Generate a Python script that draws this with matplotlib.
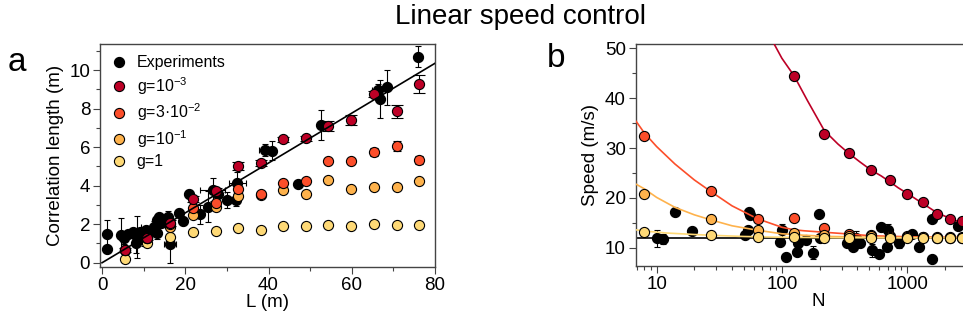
import numpy as np
import matplotlib.pyplot as plt
from matplotlib.ticker import MultipleLocator, LogLocator, NullFormatter, FixedLocator

plt.rcParams['font.family'] = ['Liberation Sans', 'DejaVu Sans']
plt.rcParams['mathtext.fontset'] = 'custom'
plt.rcParams['mathtext.rm'] = 'Liberation Sans'
plt.rcParams['mathtext.it'] = 'Liberation Sans:italic'

# colours of the g series
c_1e3 = '#bd0026'
c_3e2 = '#fc4e2a'
c_1e1 = '#feb24c'
c_1 = '#fed976'

# ---------- panel a: correlation length vs L ----------
L_sim = [5.5, 10.9, 16.3, 21.8, 27.3, 32.6, 38.2, 43.6, 49.0, 54.4, 59.9, 65.3, 70.8, 76.2]
xi_1e3 = [0.64, 1.30, 2.08, 3.29, 3.74, 5.03, 5.19, 6.40, 6.45, 7.09, 7.40, 8.77, 7.85, 9.29]
xi_1e3_err = [0.1, 0.1, 0.15, 0.15, 0.15, 0.2, 0.15, 0.15, 0.15, 0.25, 0.25, 0.15, 0.35, 0.47]
xi_3e2 = [0.64, 1.30, 2.00, 2.82, 3.08, 3.84, 3.55, 4.12, 4.26, 5.29, 5.28, 5.76, 6.07, 5.35]
xi_3e2_err = [0.1, 0.1, 0.1, 0.1, 0.1, 0.1, 0.1, 0.1, 0.1, 0.1, 0.1, 0.2, 0.25, 0.2]
xi_1e1 = [0.64, 1.28, 1.87, 2.46, 2.90, 3.46, 3.52, 3.80, 3.58, 4.29, 3.84, 3.93, 3.91, 4.24]
xi_1 = [0.19, 1.00, 1.35, 1.61, 1.66, 1.80, 1.72, 1.92, 1.92, 1.95, 1.89, 1.99, 1.95, 1.97]

L_exp = [1.1, 1.3, 4.5, 5.3, 6.3, 7.4, 8.2, 8.3, 9.1, 10.1, 10.5, 11.5, 12.5, 13.1, 13.3, 13.8,
         14.1, 14.7, 15.9, 16.3, 18.6, 19.4, 21.0, 23.5, 25.5, 26.6, 27.9, 30.1, 32.2, 32.5,
         39.2, 40.8, 47.2, 52.5, 66.4, 66.8, 68.4, 76.0]
xi_exp = [0.71, 1.49, 1.44, 1.26, 1.49, 1.57, 1.00, 1.35, 1.61, 1.35, 1.70, 1.61, 1.87, 1.52,
          2.21, 2.35, 2.04, 2.13, 2.39, 0.97, 2.60, 2.18, 3.55, 2.51, 2.90, 3.80, 3.56, 3.25,
          3.25, 4.12, 5.85, 5.81, 4.08, 7.15, 8.96, 8.49, 9.10, 10.69]
xi_exp_err = [0.1, 0.75, 0.9, 0.3, 0.2, 0.2, 0.5, 1.1, 0.2, 0.5, 0.2, 0.2, 0.3, 0.3, 0.2, 0.2,
              0.2, 0.2, 0.3, 1.0, 0.2, 0.2, 0.2, 0.5, 0.8, 0.6, 0.2, 0.4, 0.3, 0.6, 0.3, 0.5,
              0.1, 0.8, 0.3, 1.0, 0.9, 0.55]
L_exp_err = [0.2, 0.2, 0.3, 0.3, 0.3, 0.3, 0.3, 0.3, 0.3, 0.3, 0.3, 0.3, 3.2, 0.3, 0.3, 0.3,
             0.3, 0.3, 0.3, 1.5, 0.3, 0.3, 0.3, 0.3, 0.3, 3.0, 0.3, 0.3, 0.3, 2.0, 1.5, 0.5,
             0.3, 0.5, 1.5, 0.5, 1.0, 0.3]
fit_L = [0, 80]
fit_xi = [0, 10.35]

# ---------- panel b: speed vs N ----------
N_sim = [8, 27, 64, 125, 216, 343, 512, 729, 1000, 1331, 1728, 2197, 2744]
N_1e3 = [125, 216, 343, 512, 729, 1000, 1331, 1728, 2197, 2744]
v_1e3 = [44.5, 32.8, 28.9, 25.6, 23.6, 20.7, 19.2, 16.7, 15.7, 15.35]
v_3e2 = [32.5, 21.4, 15.75, 15.9, 13.9, 12.7, 12.5, 12.4, 12.4, 12.2, 12.1, 12.1, 12.05]
v_1e1 = [20.7, 15.7, 13.6, 13.0, 12.6, 12.4, 12.3, 12.2, 12.1, 12.05, 12.0, 12.0, 12.0]
v_1 = [13.2, 12.5, 12.1, 12.05, 12.0, 12.0, 12.0, 12.0, 12.0, 12.0, 12.0, 12.0, 12.0]

curve_N_1e3 = [87, 100, 125, 160, 218, 280, 343, 420, 513, 620, 729, 850, 1000, 1325, 1733, 2188, 2716, 3500, 5500]
curve_v_1e3 = [50.8, 48.0, 44.5, 39.5, 33.5, 30.8, 28.9, 27.2, 25.6, 24.4, 23.2, 22.0, 20.9, 18.9, 17.0, 15.9, 15.0, 14.2, 13.3]
curve_N_3e2 = [6.8, 8, 10, 14, 20, 27, 40, 64, 100, 125, 150, 218, 343, 512, 1000, 2000, 5500]
curve_v_3e2 = [35.5, 33.0, 30.3, 26.8, 23.6, 21.3, 18.4, 15.8, 14.1, 13.6, 13.4, 13.1, 12.75, 12.4, 12.2, 12.1, 12.05]
curve_N_1e1 = [6.8, 8, 10, 14, 20, 27, 40, 64, 100, 150, 250, 500, 1000, 5500]
curve_v_1e1 = [22.8, 21.8, 20.1, 18.1, 16.6, 15.6, 14.4, 13.5, 12.8, 12.5, 12.25, 12.1, 12.05, 12.0]
curve_N_1 = [6.8, 8, 12, 20, 27, 50, 100, 300, 5500]
curve_v_1 = [13.6, 13.35, 12.95, 12.65, 12.5, 12.25, 12.1, 12.0, 11.97]
base_N = [6.8, 5500]
base_v = [12.0, 12.0]

N_exp = [10, 11.2, 14.0, 19.0, 50.7, 53.5, 54.8, 56, 97, 99.3, 108, 131, 134, 155, 178, 199,
         202, 328, 370, 393, 420, 519, 598, 622, 685, 700, 863, 1083, 1250, 1564, 1585, 2553]
v_exp = [11.9, 11.7, 17.2, 13.4, 12.5, 13.5, 17.2, 16.5, 11.2, 13.5, 8.2, 9.2, 10.9, 11.5, 9.0,
         16.7, 11.9, 10.9, 10.2, 11.9, 10.9, 9.5, 8.7, 14.2, 10.2, 13.5, 10.9, 12.7, 10.2, 15.7,
         7.7, 14.3]
v_exp_err = [1.7, 1.0, 0.3, 0.5, 0.3, 0.4, 0.3, 0.3, 0.5, 1.3, 0.3, 0.5, 0.4, 0.4, 1.3, 0.3,
             0.3, 0.5, 0.4, 1.5, 0.4, 1.3, 0.3, 0.4, 0.5, 1.2, 1.0, 0.4, 0.4, 0.5, 0.3, 0.4]

spine_c = '#444444'
ms = 7.3
mew = 0.8
fs = 13.5

fig = plt.figure(figsize=(9.63, 3.27), dpi=100)
ax1 = fig.add_axes([0.1038, 0.1835, 0.3479, 0.6819])
ax2 = fig.add_axes([0.660, 0.1865, 0.3784, 0.678])

# panel a
ax1.plot(fit_L, fit_xi, color='black', lw=1.2, zorder=7)
ax1.errorbar(L_exp, xi_exp, yerr=xi_exp_err, xerr=L_exp_err, fmt='none', ecolor='black',
             elinewidth=0.8, capsize=2, capthick=0.8, zorder=1)
ax1.plot(L_exp, xi_exp, 'o', ms=ms, mfc='black', mec='black', mew=mew, zorder=2, label='Experiments')
ax1.plot(L_sim, xi_1, 'o', ms=ms, mfc=c_1, mec='black', mew=mew, zorder=3, label='g=1')
ax1.plot(L_sim, xi_1e1, 'o', ms=ms, mfc=c_1e1, mec='black', mew=mew, zorder=4, label='g=10$^{-1}$')
ax1.errorbar(L_sim, xi_3e2, yerr=xi_3e2_err, fmt='none', ecolor='black',
             elinewidth=0.8, capsize=3, capthick=0.8, zorder=4.5)
ax1.plot(L_sim, xi_3e2, 'o', ms=ms, mfc=c_3e2, mec='black', mew=mew, zorder=5, label='g=3·10$^{-2}$')
ax1.errorbar(L_sim, xi_1e3, yerr=xi_1e3_err, fmt='none', ecolor='black',
             elinewidth=0.8, capsize=4.5, capthick=0.8, zorder=5.5)
ax1.plot(L_sim, xi_1e3, 'o', ms=ms, mfc=c_1e3, mec='black', mew=mew, zorder=6, label='g=10$^{-3}$')

ax1.set_xlim(-0.5, 80)
ax1.set_ylim(-0.22, 11.35)
ax1.xaxis.set_major_locator(MultipleLocator(20))
ax1.xaxis.set_minor_locator(MultipleLocator(10))
ax1.yaxis.set_major_locator(MultipleLocator(2))
ax1.yaxis.set_minor_locator(MultipleLocator(1))
ax1.set_xlabel('L (m)', fontsize=fs, labelpad=0)
ax1.set_ylabel('Correlation length (m)', fontsize=fs, labelpad=4)

h, lab = ax1.get_legend_handles_labels()
order = [0, 4, 3, 2, 1]
ax1.legend([h[i] for i in order], [lab[i] for i in order], loc='upper left',
           bbox_to_anchor=(0.0, 1.0), frameon=False, fontsize=11.5, handlelength=1.0,
           handletextpad=0.6, labelspacing=0.3, borderaxespad=0.3)

# panel b
ax2.plot(base_N, base_v, color='black', lw=1.2, zorder=2)
ax2.errorbar(N_exp, v_exp, yerr=v_exp_err, fmt='none', ecolor='black',
             elinewidth=0.8, capsize=2, capthick=0.8, zorder=1)
ax2.plot(N_exp, v_exp, 'o', ms=ms, mfc='black', mec='black', mew=mew, zorder=1.5)
ax2.plot(curve_N_1e3, curve_v_1e3, color=c_1e3, lw=1.2, zorder=3)
ax2.plot(curve_N_3e2, curve_v_3e2, color=c_3e2, lw=1.2, zorder=3)
ax2.plot(curve_N_1e1, curve_v_1e1, color=c_1e1, lw=1.2, zorder=3)
ax2.plot(curve_N_1, curve_v_1, color=c_1, lw=1.2, zorder=3)
ax2.plot(N_1e3, v_1e3, 'o', ms=ms, mfc=c_1e3, mec='black', mew=mew, zorder=4)
ax2.plot(N_sim, v_3e2, 'o', ms=ms, mfc=c_3e2, mec='black', mew=mew, zorder=5)
ax2.plot(N_sim, v_1e1, 'o', ms=ms, mfc=c_1e1, mec='black', mew=mew, zorder=6)
ax2.plot(N_sim, v_1, 'o', ms=ms, mfc=c_1, mec='black', mew=mew, zorder=7)

ax2.set_xscale('log')
ax2.set_xlim(6.8, 5500)
ax2.set_ylim(6.33, 50.8)
ax2.xaxis.set_major_locator(FixedLocator([10, 100, 1000]))
ax2.xaxis.set_minor_locator(LogLocator(base=10, subs=np.arange(2, 10)))
ax2.xaxis.set_minor_formatter(NullFormatter())
ax2.set_xticklabels(['10', '100', '1000'])
ax2.yaxis.set_major_locator(MultipleLocator(10))
ax2.yaxis.set_minor_locator(MultipleLocator(5))
ax2.set_xlabel('N', fontsize=fs, labelpad=0)
ax2.set_ylabel('Speed (m/s)', fontsize=fs, labelpad=4)

for ax in (ax1, ax2):
    for s in ax.spines.values():
        s.set_color(spine_c)
        s.set_linewidth(1.0)
    ax.tick_params(which='both', direction='out', color=spine_c, width=0.8, labelsize=fs, pad=2)
    ax.tick_params(which='major', length=5)
    ax.tick_params(which='minor', length=3)

fig.text(0.54, 0.948, 'Linear speed control', ha='center', va='center', fontsize=20)
fig.text(0.008, 0.81, 'a', ha='left', va='center', fontsize=24)
fig.text(0.568, 0.82, 'b', ha='left', va='center', fontsize=24)

fig.savefig('out.png', dpi=100)
